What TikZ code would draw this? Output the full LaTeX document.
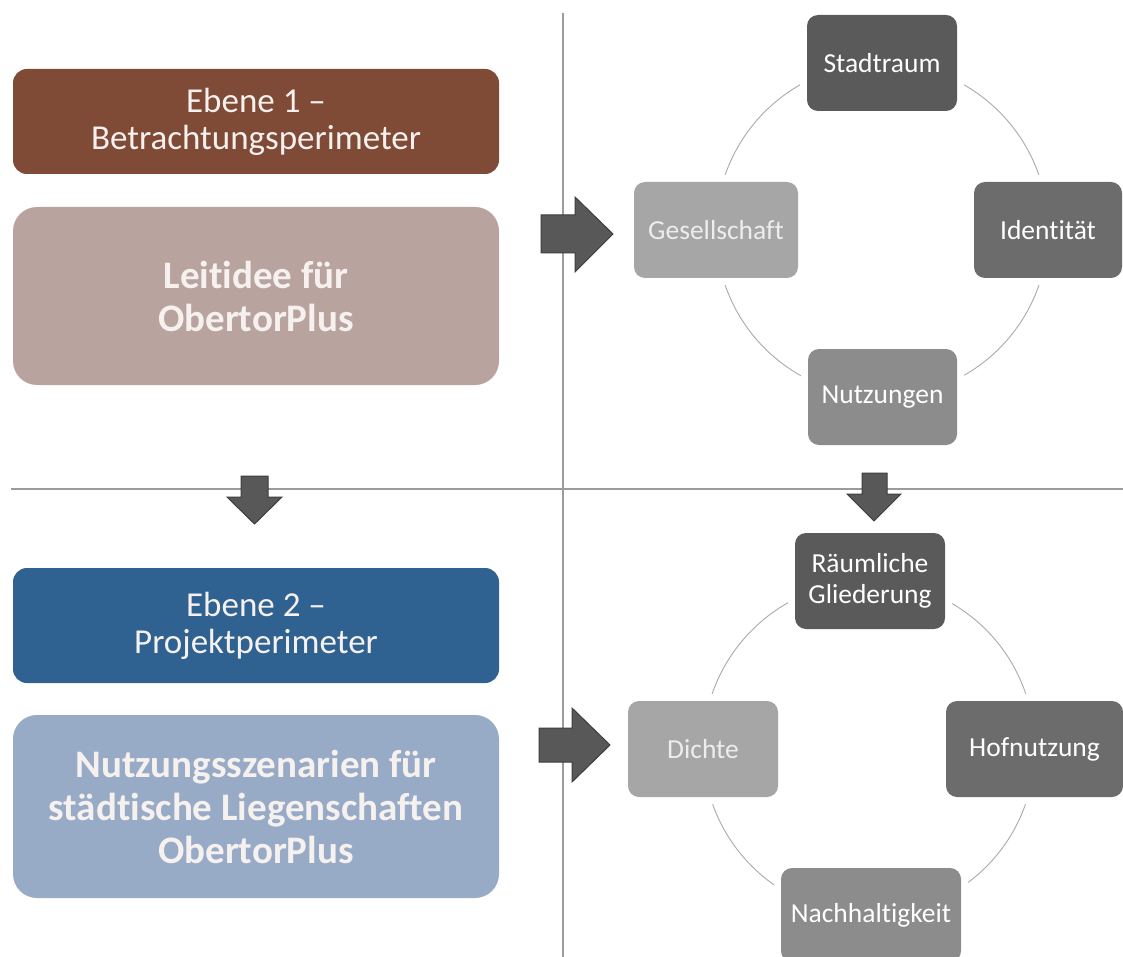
\documentclass[tikz,border=0pt]{standalone}
\usepackage{fontspec}
\setmainfont{Carlito}[Ligatures=NoCommon]
\pgfdeclarelayer{background}
\pgfsetlayers{background,main}
\definecolor{brownA}{RGB}{127,74,54}
\definecolor{brownB}{RGB}{184,163,158}
\definecolor{blueA}{RGB}{47,98,144}
\definecolor{blueB}{RGB}{151,170,198}
\definecolor{grayA}{RGB}{90,90,90}
\definecolor{grayB}{RGB}{108,108,108}
\definecolor{grayC}{RGB}{140,140,140}
\definecolor{grayD}{RGB}{166,166,166}
\definecolor{arrowfill}{RGB}{88,88,88}
\definecolor{arrowline}{RGB}{62,62,62}
\definecolor{sepline}{RGB}{155,155,155}
\definecolor{ringline}{RGB}{170,170,170}
\definecolor{softwhite}{RGB}{246,241,239}
\tikzset{
  levelbox/.style={rectangle, rounded corners=14pt, minimum width=486pt, inner sep=0pt,
    align=center, text=softwhite, font=\fontsize{35}{37}\selectfont},
  ideabox/.style={rectangle, rounded corners=24pt, minimum width=486pt, inner sep=0pt,
    align=center, text=softwhite, font=\bfseries\fontsize{39}{43}\selectfont},
  cycbox/.style={rectangle, rounded corners=11pt, minimum height=96pt, inner sep=0pt,
    align=center, text=white, font=\fontsize{27.5}{31}\selectfont,
    preaction={draw=white, line width=14pt}},
  ring/.style={draw=ringline, line width=0.9pt},
  sep/.style={draw=sepline, line width=1.8pt},
  blockarrow/.style={fill=arrowfill, draw=arrowline, line width=1pt, line join=miter}
}
\begin{document}
\begin{tikzpicture}[x=1pt,y=1pt]
\clip (0,0) rectangle (1123,-957);
\begin{pgfonlayer}{background}
\fill[white] (0,0) rectangle (1123,-957);
\end{pgfonlayer}

% separator lines
\coordinate (vtop) at (563,-13);
\coordinate (vbot) at (563,-957);
\coordinate (hl) at (11,-489);
\coordinate (hr) at (1123,-489);
\draw[sep] (vtop) -- (vbot);
\draw[sep] (hl) -- (hr);

% left column
\node[levelbox, fill=brownA, minimum height=105pt] (e1) at (256,-121.5) {Ebene 1 –\\Betrachtungsperimeter};
\node[ideabox, fill=brownB, minimum height=178pt] (l1) at (256,-296) {Leitidee für\\ObertorPlus};
\node[levelbox, fill=blueA, minimum height=115pt] (e2) at (256,-625.5) {Ebene 2 –\\Projektperimeter};
\node[ideabox, fill=blueB, minimum height=183pt] (l2) at (256,-806.5) {Nutzungsszenarien für\\städtische Liegenschaften\\ObertorPlus};

% upper cycle
\node[cycbox, fill=grayA, minimum width=150pt] (S) at (882,-63) {Stadtraum};
\node[cycbox, fill=grayB, minimum width=148pt] (I) at (1048,-230) {Identität};
\node[cycbox, fill=grayC, minimum width=149pt] (N) at (882.5,-397) {Nutzungen};
\node[cycbox, fill=grayD, minimum width=164pt, text=white!93!black] (G) at (716,-230) {Gesellschaft};

% lower cycle
\node[cycbox, fill=grayA, minimum width=150pt] (R) at (870,-581) {Räumliche\\Gliederung};
\node[cycbox, fill=grayB, minimum width=177pt] (H) at (1034.5,-749) {Hofnutzung};
\node[cycbox, fill=grayC, minimum width=180pt, minimum height=94pt] (Nh) at (871,-915) {Nachhaltigkeit};
\node[cycbox, fill=grayD, minimum width=150pt, text=white!93!black] (D) at (703,-749) {Dichte};

\begin{pgfonlayer}{background}
\draw[ring] (S.center) to[bend left=45] (I.center);
\draw[ring] (I.center) to[bend left=45] (N.center);
\draw[ring] (N.center) to[bend left=45] (G.center);
\draw[ring] (G.center) to[bend left=45] (S.center);
\draw[ring] (R.center) to[bend left=45] (H.center);
\draw[ring] (H.center) to[bend left=45] (Nh.center);
\draw[ring] (Nh.center) to[bend left=45] (D.center);
\draw[ring] (D.center) to[bend left=45] (R.center);
\end{pgfonlayer}

% block arrows
\draw[blockarrow] (541,-215) -- (575,-215) -- (575,-197) -- (613,-234) -- (575,-272) -- (575,-253) -- (541,-253) -- cycle;
\draw[blockarrow] (539,-728) -- (572,-728) -- (572,-708) -- (610,-745) -- (572,-782) -- (572,-762) -- (539,-762) -- cycle;
\draw[blockarrow] (241,-476) -- (268,-476) -- (268,-497) -- (282,-497) -- (254.5,-524) -- (227,-497) -- (241,-497) -- cycle;
\draw[blockarrow] (862,-473) -- (887,-473) -- (887,-494) -- (901,-494) -- (874,-521) -- (847,-494) -- (862,-494) -- cycle;
\end{tikzpicture}
\end{document}
